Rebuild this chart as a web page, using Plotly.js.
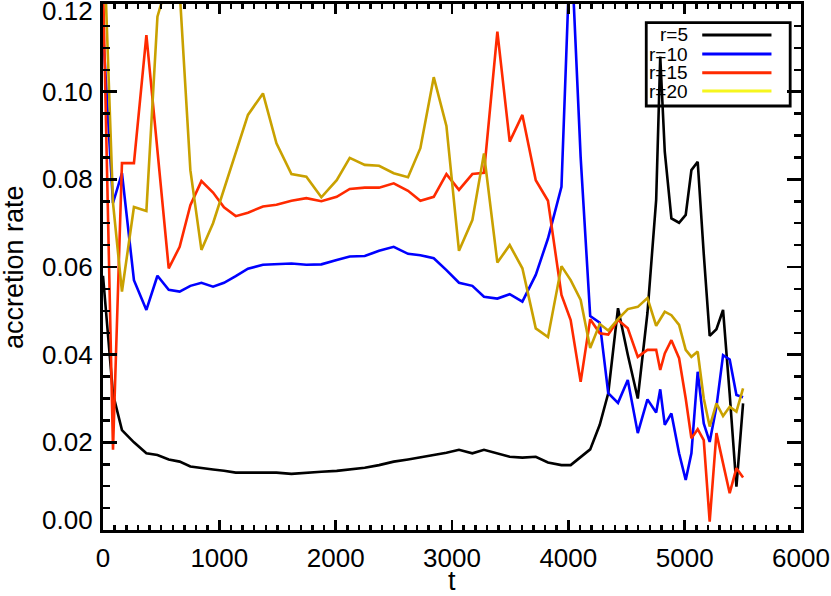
<!DOCTYPE html>
<html>
<head>
<meta charset="utf-8">
<script src="https://cdn.plot.ly/plotly-3.0.1.min.js"></script>
<style>
  body { margin: 0; background: #fff; }
  #chart { width: 831px; height: 596px; }
</style>
</head>
<body>
<div id="chart"></div>
<script>
// sample times, shared by all four radii
const t = [0, 86, 163, 266, 373, 468, 565, 659, 751, 846, 946, 1040, 1141, 1246, 1375, 1491,
  1620, 1748, 1877, 2009, 2121, 2250, 2373, 2499, 2622, 2728, 2843, 2952, 3060, 3175, 3275,
  3390, 3496, 3605, 3720, 3825, 3941, 4020, 4106, 4188, 4270, 4343, 4427, 4511, 4597, 4680,
  4755, 4790, 4829, 4886, 4952, 5009, 5058, 5112, 5164, 5215, 5273, 5330, 5387, 5445, 5502];

const r5 = [0.058, 0.031, 0.0228, 0.0200, 0.0175, 0.0171, 0.0161, 0.0156, 0.0145, 0.0141,
  0.0138, 0.0135, 0.0131, 0.0131, 0.0131, 0.0131, 0.0128, 0.0131, 0.0133, 0.0135, 0.0138,
  0.0142, 0.0148, 0.0156, 0.0161, 0.0166, 0.0171, 0.0176, 0.0183, 0.0175, 0.0183, 0.0175,
  0.0167, 0.0165, 0.0167, 0.0154, 0.0148, 0.0148, 0.0166, 0.0184, 0.0240, 0.0312, 0.0506,
  0.0400, 0.0300, 0.0495, 0.0753, 0.1080, 0.0863, 0.0711, 0.0701, 0.0719, 0.0821, 0.0840,
  0.0630, 0.0443, 0.0458, 0.0502, 0.0310, 0.0099, 0.0289];

const r10 = [0.1137, 0.0746, 0.0814, 0.0570, 0.0502, 0.0580, 0.0548, 0.0544, 0.0557, 0.0564,
  0.0555, 0.0564, 0.0579, 0.0596, 0.0605, 0.0607, 0.0608, 0.0605, 0.0606, 0.0616, 0.0624,
  0.0625, 0.0637, 0.0646, 0.0630, 0.0627, 0.0620, 0.0593, 0.0564, 0.0557, 0.0532, 0.0528,
  0.0538, 0.0521, 0.0582, 0.0665, 0.0783, 0.1360, 0.0850, 0.0488, 0.0473, 0.0312, 0.0290,
  0.0342, 0.0221, 0.0298, 0.0268, 0.0321, 0.0240, 0.0266, 0.0175, 0.0114, 0.0175, 0.0361,
  0.0243, 0.0201, 0.0281, 0.0399, 0.0389, 0.0308, 0.0303];

const r15 = [0.125, 0.0183, 0.0837, 0.0837, 0.1129, 0.0860, 0.0597, 0.0646, 0.0741, 0.0796,
  0.0770, 0.0736, 0.0716, 0.0724, 0.0738, 0.0742, 0.0751, 0.0757, 0.0750, 0.0760, 0.0778,
  0.0781, 0.0781, 0.0791, 0.0774, 0.0751, 0.0760, 0.0812, 0.0776, 0.0812, 0.0815, 0.1137,
  0.0886, 0.0947, 0.0798, 0.0751, 0.0536, 0.0479, 0.0338, 0.0481, 0.0449, 0.0446, 0.0479,
  0.0460, 0.0395, 0.0411, 0.0411, 0.0365, 0.0403, 0.0433, 0.0392, 0.0300, 0.0209, 0.0230,
  0.0205, 0.0019, 0.0221, 0.0152, 0.0084, 0.0141, 0.0120];

const r20 = [0.140, 0.0746, 0.0544, 0.0737, 0.0728, 0.1171, 0.1260, 0.1230, 0.0821, 0.0639,
  0.0700, 0.0776, 0.0863, 0.0947, 0.0996, 0.0882, 0.0812, 0.0806, 0.0759, 0.0798, 0.0849,
  0.0833, 0.0831, 0.0814, 0.0805, 0.0871, 0.1033, 0.0922, 0.0637, 0.0707, 0.0859, 0.0610,
  0.0650, 0.0597, 0.0460, 0.0440, 0.0602, 0.0570, 0.0525, 0.0415, 0.0470, 0.0455, 0.0481,
  0.0504, 0.0509, 0.0529, 0.0466, 0.0480, 0.0498, 0.0490, 0.0468, 0.0411, 0.0395, 0.0407,
  0.0300, 0.0236, 0.0289, 0.0260, 0.0281, 0.0270, 0.0323];

const seriesNames = ['r=5', 'r=10', 'r=15', 'r=20'];
const lineColors = ['#000000', '#0000ff', '#ff2a00', '#c9a100'];
const legendColors = ['#000000', '#0000ff', '#ff2a00', '#f6f61e'];

const yTicks = [0, 0.02, 0.04, 0.06, 0.08, 0.10, 0.12];
const yTickText = ['0.00', '0.02', '0.04', '0.06', '0.08', '0.10', '0.12'];

const FONT = 'Liberation Sans, Arial, Helvetica, sans-serif';
const allSeries = [r5, r10, r15, r20];

let traces = allSeries.map((ys, i) => ({
    x: t,
    y: ys,
    mode: 'lines',
    name: seriesNames[i],
    line: { color: lineColors[i], width: 2.6 },
    showlegend: false
}));

// hand-drawn legend, IDL style: label on the left, sample line on the right
let shapes = [{
    type: 'rect', xref: 'paper', yref: 'paper',
    x0: 0.7783, x1: 0.9845, y0: 0.8061, y1: 0.9645,
    line: { color: '#000', width: 2.8 }
}];
let annotations = [];
const rowY = [0.9411, 0.9049, 0.8694, 0.8346];
seriesNames.forEach((name, i) => {
    shapes.push({
        type: 'line', xref: 'paper', yref: 'paper',
        x0: 0.8585, x1: 0.9577, y0: rowY[i], y1: rowY[i],
        line: { color: legendColors[i], width: 3 }
    });
    annotations.push({
        xref: 'paper', yref: 'paper', x: 0.8389, y: rowY[i],
        xanchor: 'right', yanchor: 'middle', showarrow: false, borderpad: 0,
        text: name, font: { family: FONT, size: 19, color: '#000' }
    });
});

// y tick labels placed by hand so the end ones stay inside the picture
yTicks.forEach((v, i) => {
    let shift = 0;
    if (i === 0) shift = 10;
    if (i === yTicks.length - 1) shift = -7;
    annotations.push({
        xref: 'paper', yref: 'y', x: 0, y: v,
        xanchor: 'right', yanchor: 'middle', xshift: -9, yshift: shift,
        showarrow: false, borderpad: 0, text: yTickText[i],
        font: { family: FONT, size: 26, color: '#000' }
    });
});

annotations.push({
    xref: 'paper', yref: 'paper', x: 0.5, y: 0, yanchor: 'top', yshift: -35,
    showarrow: false, borderpad: 0, text: 't',
    font: { family: FONT, size: 27, color: '#000' }
});
annotations.push({
    xref: 'paper', yref: 'paper', x: 0, y: 0.5, xanchor: 'center', xshift: -89,
    textangle: -90, showarrow: false, borderpad: 0, text: 'accretion rate',
    font: { family: FONT, size: 27, color: '#000' }
});

const axisLine = { showline: true, linewidth: 3, linecolor: '#000', showgrid: false, zeroline: false };

let layout = {
    width: 831,
    height: 596,
    margin: { l: 103, r: 30, t: 4, b: 66 },
    paper_bgcolor: '#fff',
    plot_bgcolor: '#fff',
    showlegend: false,
    font: { family: FONT, size: 26, color: '#000' },
    xaxis: Object.assign({
        range: [0, 6000],
        tickmode: 'linear', tick0: 0, dtick: 1000,
        ticks: 'inside', ticklen: 10, tickwidth: 2.5, tickcolor: '#000',
        minor: { dtick: 100, ticks: 'inside', ticklen: 5, tickwidth: 2.5, tickcolor: '#000', showgrid: false },
        mirror: 'ticks',
        ticklabelstandoff: 3,
        tickfont: { family: FONT, size: 26, color: '#000' }
    }, axisLine),
    yaxis: Object.assign({
        range: [0, 0.12],
        tickmode: 'linear', tick0: 0, dtick: 0.02,
        showticklabels: false,
        ticks: 'inside', ticklen: 14, tickwidth: 2.5, tickcolor: '#000',
        minor: { dtick: 0.005, ticks: 'inside', ticklen: 7, tickwidth: 2.5, tickcolor: '#000', showgrid: false },
        mirror: 'ticks'
    }, axisLine),
    shapes: shapes,
    annotations: annotations
};

Plotly.newPlot('chart', traces, layout, { staticPlot: true });
</script>
</body>
</html>
